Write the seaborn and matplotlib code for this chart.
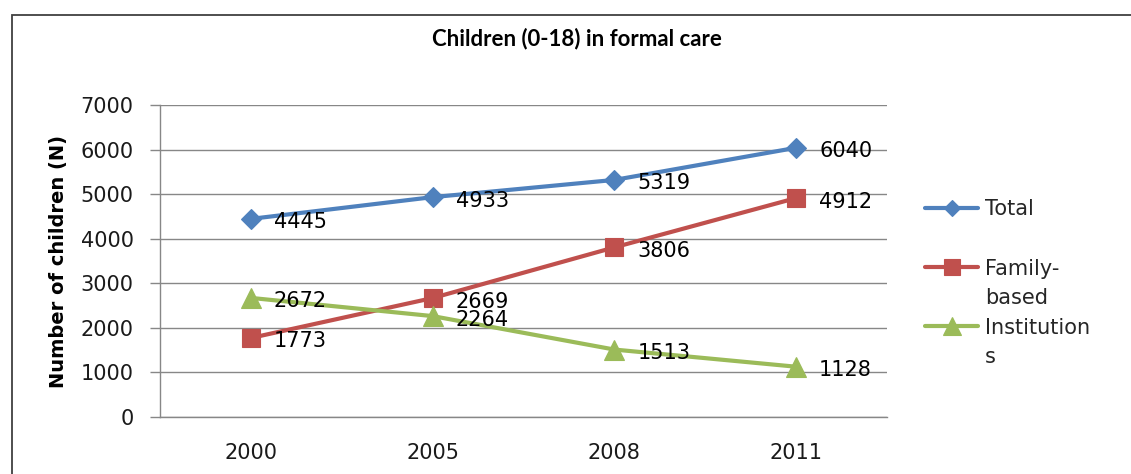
import numpy as np
import pandas as pd
import seaborn as sns
import matplotlib
matplotlib.use("Agg")
import matplotlib.pyplot as plt
from matplotlib.patches import Rectangle
from matplotlib.legend_handler import HandlerLine2D
from matplotlib.transforms import Affine2D

years = ["2000", "2005", "2008", "2011"]
series_names = ["Total", "Family-based", "Institutions"]
legend_labels = ["Total", "Family-\nbased", "Institution\ns"]
total = [4445, 4933, 5319, 6040]
family = [1773, 2669, 3806, 4912]
institutions = [2672, 2264, 1513, 1128]
yticks = [0, 1000, 2000, 3000, 4000, 5000, 6000, 7000]

colors = ["#4F81BD", "#C0504D", "#9BBB59"]
markers = ["D", "s", "^"]
msizes = [10, 13.5, 14.5]

sns.set_theme(style="white")
plt.rcParams['font.family'] = ['DejaVu Sans']

FS = 15

fig = plt.figure(figsize=(11.31, 4.74), dpi=100)
ax = fig.add_axes([160/1131, 1-417/474, 727/1131, (417-105)/474])

pos = np.arange(len(years))
values = [total, family, institutions]
df = pd.DataFrame({
    "pos": np.tile(pos, 3),
    "value": np.concatenate(values),
    "series": np.repeat(series_names, len(years)),
})

handles = []
for name, col, mk, ms in zip(series_names, colors, markers, msizes):
    sub = df[df.series == name]
    sns.lineplot(data=sub, x="pos", y="value", ax=ax, color=col, marker=mk,
                 markersize=ms, markeredgecolor=col, markeredgewidth=0.8,
                 linewidth=3.0, zorder=3)
    handles.append(ax.get_lines()[-1])
    for x, v in zip(sub.pos, sub.value):
        ax.annotate(str(v), (x, v), xytext=(16.5, -2.5), textcoords="offset points",
                    ha="left", va="center", fontsize=FS, color="#000000", zorder=4)

ax.set_xlim(-0.5, 3.5)
ax.set_ylim(0, 7000)
ax.set_yticks(yticks)
ax.set_yticklabels([str(t) for t in yticks], fontsize=FS, color="#1a1a1a")
ax.set_xticks(pos)
ax.set_xticklabels(years, fontsize=FS, color="#1a1a1a")
ax.set_xticks(np.arange(-0.5, 3.6, 1.0), minor=True)
ax.tick_params(axis="x", which="major", length=0, pad=19)
ax.tick_params(axis="x", which="minor", length=6, width=1, color="#878787", direction="out")
ax.tick_params(axis="y", length=7, width=1, color="#878787", direction="out", pad=12, left=True)
ax.grid(axis="y", color="#878787", linewidth=1)
ax.grid(axis="x", visible=False)
for s in ["top", "right"]:
    ax.spines[s].set_visible(False)
for s in ["left", "bottom"]:
    ax.spines[s].set_color("#878787")
    ax.spines[s].set_linewidth(1)
ax.set_xlabel("")
ax.set_ylabel("Number of children (N)", fontsize=14, fontweight="bold", color="#000000")
ax.yaxis.set_label_coords(-0.126, 0.5)


class FirstLineHandler(HandlerLine2D):
    def __init__(self, shift=0.0, **kw):
        super().__init__(**kw)
        self.shift = shift

    def create_artists(self, legend, orig_handle, xdescent, ydescent, width,
                       height, fontsize, trans):
        t = Affine2D().translate(0, self.shift) + trans
        return super().create_artists(legend, orig_handle, xdescent, ydescent,
                                      width, height, fontsize, t)


legend_kw = dict(loc="upper left", frameon=False, fontsize=FS, handlelength=2.55,
                 handletextpad=0.34, borderaxespad=0, borderpad=0, markerscale=0.85)

leg1 = fig.legend(handles[:1], legend_labels[:1],
                  bbox_to_anchor=(925/1131, 1-199/474), **legend_kw)
shift = 12.6
leg2 = fig.legend(handles[1:], legend_labels[1:],
                  bbox_to_anchor=(925/1131, 1-259/474), labelspacing=0.45,
                  handler_map={handles[1]: FirstLineHandler(shift),
                               handles[2]: FirstLineHandler(shift)},
                  **legend_kw)
for t in leg2.get_texts():
    t.set_linespacing(1.59)

fig.text(0.5105, 1-39/474, "Children (0-18) in formal care", ha="center", va="center",
         fontsize=16, fontweight="bold", color="#000000", family=["Lato", "DejaVu Sans"])

fig.add_artist(Rectangle((12/1131, -0.2), 1.2, 1.2 - 15/474, transform=fig.transFigure,
                         fill=False, edgecolor="#404040", linewidth=1.3))

fig.savefig("out.png", dpi=100, facecolor="white")
